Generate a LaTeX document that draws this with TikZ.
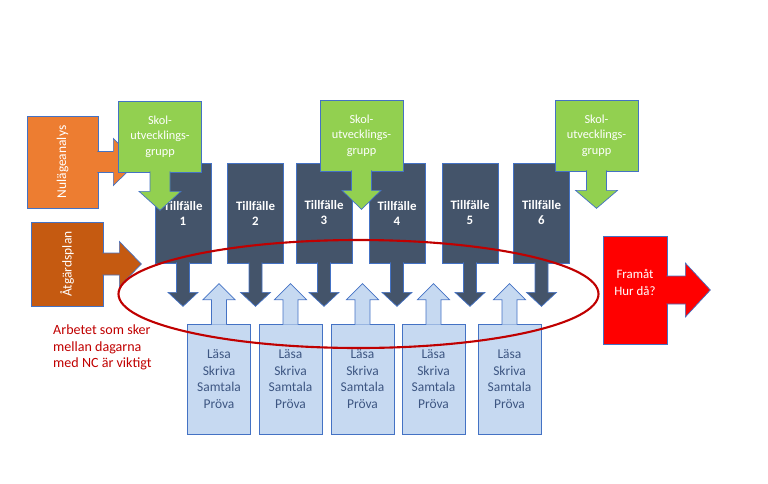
\documentclass[tikz,border=0pt]{standalone}
\usepackage{fontspec}
\setmainfont{Carlito}
\usepackage{graphicx}
\usepackage{tikz}
\usetikzlibrary{shapes, arrows, calc}
\definecolor{nulage}{RGB}{237,125,49}
\definecolor{atgard}{RGB}{197,90,17}
\definecolor{skolgron}{RGB}{146,208,80}
\definecolor{tillfgra}{RGB}{68,84,106}
\definecolor{lasabla}{RGB}{198,217,241}
\definecolor{lasatext}{RGB}{61,86,130}
\definecolor{kant}{RGB}{68,114,196}
\definecolor{mork}{RGB}{192,0,0}
\definecolor{framat}{RGB}{255,0,0}
\tikzstyle{callout} = [rectangle, draw=kant, line width=0.6pt, inner sep=0pt, text centered, align=center]
\tikzstyle{arrowpart} = [draw=kant, line width=0.6pt]
\tikzstyle{analys} = [callout, fill=nulage, text=white, minimum width=21.3mm, minimum height=27.6mm, font=\fontsize{11.5}{14}\selectfont]
\tikzstyle{plan} = [callout, fill=atgard, text=white, minimum width=21.6mm, minimum height=25.2mm, font=\fontsize{11.5}{14}\selectfont]
\tikzstyle{skol} = [callout, fill=skolgron, text=white, minimum width=24.9mm, minimum height=21.3mm, font=\fontsize{10.5}{13.2}\selectfont]
\tikzstyle{tillf} = [callout, fill=tillfgra, text=white, minimum width=16.8mm, minimum height=30mm, font=\fontsize{11}{12.8}\selectfont\bfseries]
\tikzstyle{lasa} = [callout, fill=lasabla, text=lasatext, minimum width=18.9mm, minimum height=33mm, font=\fontsize{11.5}{14}\selectfont]
\tikzstyle{fram} = [callout, fill=framat, minimum width=19.2mm, minimum height=32.4mm]
\tikzstyle{note} = [align=left, inner sep=0pt, font=\fontsize{12}{14}\selectfont]
\tikzstyle{ring} = [ellipse, draw=mork, line width=1.8pt, inner sep=0pt, minimum width=144mm, minimum height=32.4mm]
% pil nedåt, åt höger och uppåt från en nods kant
\newcommand{\calldown}[6]{\filldraw[#1] ($(#2.south)+(-#3,-1)$) -- ($(#2.south)+(-#3,#5)$) -- ($(#2.south)+(-#4,#5)$)
  -- ($(#2.south)+(0,{#5+#6})$) -- ($(#2.south)+(#4,#5)$) -- ($(#2.south)+(#3,#5)$) -- ($(#2.south)+(#3,-1)$);}
\newcommand{\callright}[6]{\filldraw[#1] ($(#2.east)+(-1,-#3)$) -- ($(#2.east)+(#5,-#3)$) -- ($(#2.east)+(#5,-#4)$)
  -- ($(#2.east)+({#5+#6},0)$) -- ($(#2.east)+(#5,#4)$) -- ($(#2.east)+(#5,#3)$) -- ($(#2.east)+(-1,#3)$);}
\newcommand{\callup}[6]{\filldraw[#1] ($(#2.north)+(-#3,1)$) -- ($(#2.north)+(-#3,-#5)$) -- ($(#2.north)+(-#4,-#5)$)
  -- ($(#2.north)+(0,{-#5-#6})$) -- ($(#2.north)+(#4,-#5)$) -- ($(#2.north)+(#3,-#5)$) -- ($(#2.north)+(#3,1)$);}

\begin{document}
\begin{tikzpicture}[x=0.3mm, y=-0.3mm]
        \useasboundingbox (0,0) rectangle (768,483);
        \node [analys] (nulage) at (62.5,162) {\rotatebox{90}{Nulägeanalys}};
        \callright{arrowpart, fill=nulage}{nulage}{10.5}{23.5}{15}{24}
        \node [plan] (atgard) at (67,264) {\rotatebox{90}{Åtgärdsplan}};
        \callright{arrowpart, fill=atgard}{atgard}{11}{22.5}{16}{22}
        % tillfällena
        \node [tillf] (t1) at (183,213) {Tillfälle\\1};
        \calldown{arrowpart, fill=tillfgra}{t1}{6.5}{15}{29}{14}
        \node [tillf] (t2) at (255.5,213) {Tillfälle\\2};
        \calldown{arrowpart, fill=tillfgra}{t2}{6.5}{15}{29}{14}
        \node [tillf] (t3) at (324,213) {Tillfälle\\3};
        \calldown{arrowpart, fill=tillfgra}{t3}{6.5}{15}{29}{14}
        \node [tillf] (t4) at (397,213) {Tillfälle\\4};
        \calldown{arrowpart, fill=tillfgra}{t4}{6.5}{15}{29}{14}
        \node [tillf] (t5) at (470,213) {Tillfälle\\5};
        \calldown{arrowpart, fill=tillfgra}{t5}{6.5}{15}{29}{14}
        \node [tillf] (t6) at (541.5,213) {Tillfälle\\6};
        \calldown{arrowpart, fill=tillfgra}{t6}{6.5}{15}{29}{14}
        % skolutvecklingsgruppen
        \node [skol] (skol1) at (160,136.5) {Skol-\\utvecklings-\\grupp};
        \calldown{arrowpart, fill=skolgron}{skol1}{10}{21}{19}{19}
        \node [skol] (skol2) at (361.5,135.5) {Skol-\\utvecklings-\\grupp};
        \calldown{arrowpart, fill=skolgron}{skol2}{10}{19.5}{19}{19}
        \node [skol] (skol3) at (596.5,135.5) {Skol-\\utvecklings-\\grupp};
        \calldown{arrowpart, fill=skolgron}{skol3}{10}{21}{19}{18}
        % arbetet mellan dagarna
        \node [lasa] (l1) at (219,379) {Läsa\\Skriva\\Samtala\\Pröva};
        \callup{arrowpart, fill=lasabla}{l1}{7.5}{16}{24}{16}
        \node [lasa] (l2) at (290.5,379) {Läsa\\Skriva\\Samtala\\Pröva};
        \callup{arrowpart, fill=lasabla}{l2}{7.5}{16}{24}{16}
        \node [lasa] (l3) at (362.5,379) {Läsa\\Skriva\\Samtala\\Pröva};
        \callup{arrowpart, fill=lasabla}{l3}{7.5}{16}{24}{16}
        \node [lasa] (l4) at (433.5,379) {Läsa\\Skriva\\Samtala\\Pröva};
        \callup{arrowpart, fill=lasabla}{l4}{7.5}{16}{24}{16}
        \node [lasa] (l5) at (509.5,379) {Läsa\\Skriva\\Samtala\\Pröva};
        \callup{arrowpart, fill=lasabla}{l5}{7.5}{16}{24}{16}
        \node [fram] (fram) at (635,290) {};
        \callright{arrowpart, fill=framat}{fram}{14}{27}{18}{25}
        \node [align=center, text=white, font=\fontsize{11}{14.5}\selectfont] (framtext) at (635,282) {Framåt\\Hur då?};
        \node [note, text=mork, anchor=west] (note) at (53,347.5) {Arbetet som sker\\mellan dagarna\\med NC är viktigt};
        \node [ring] (ring) at (358.5,294) {};
\end{tikzpicture}
\end{document}
